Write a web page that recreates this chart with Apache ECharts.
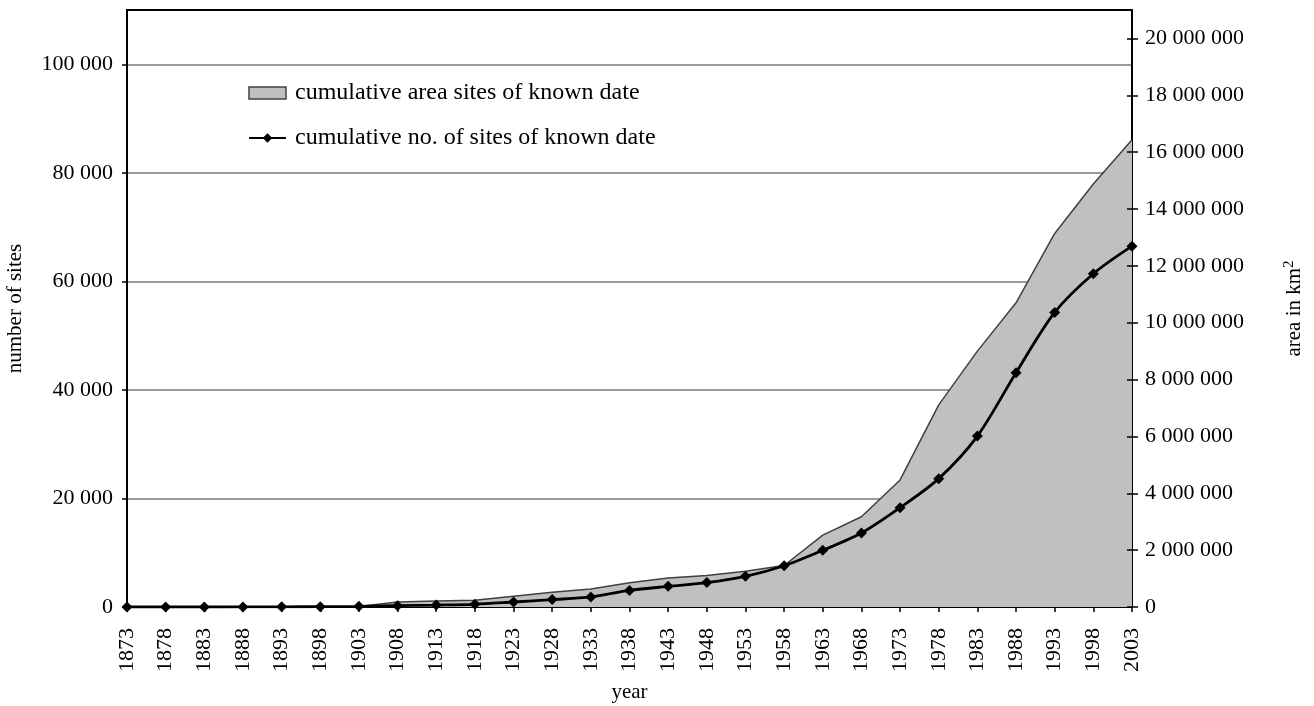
<!DOCTYPE html>
<html>
<head>
<meta charset="utf-8">
<style>
  html, body { margin: 0; padding: 0; background: #fff; }
  #chart { width: 1314px; height: 706px; }
</style>
<script src="https://cdn.jsdelivr.net/npm/echarts@6/dist/echarts.min.js"></script>
</head>
<body>
<div id="chart"></div>
<script>
const chart = echarts.init(document.getElementById("chart"));

const FONT = "Liberation Serif";

// ==========================
// DATA
// ==========================

const years = [
  "1873", "1878", "1883", "1888", "1893", "1898", "1903", "1908", "1913",
  "1918", "1923", "1928", "1933", "1938", "1943", "1948", "1953", "1958",
  "1963", "1968", "1973", "1978", "1983", "1988", "1993", "1998", "2003"
];

// cumulative number of sites (left axis)
const siteCounts = [
  0, 0, 0, 10, 30, 60, 120, 250, 350,
  500, 920, 1360, 1860, 3050, 3810, 4500, 5650, 7600,
  10440, 13630, 18300, 23650, 31490, 43160, 54270, 61400, 66480
];

// cumulative area in km2 (right axis)
const siteArea = [
  0, 0, 0, 0, 5000, 10000, 20000, 180000, 210000,
  240000, 380000, 520000, 630000, 850000, 1020000, 1110000, 1260000, 1460000,
  2530000, 3175000, 4470000, 7110000, 9000000, 10700000, 13140000, 14880000, 16440000
];

const AREA_NAME = "cumulative area sites of known date";
const COUNT_NAME = "cumulative no. of sites of known date";

const spaced = v => String(v).replace(/\B(?=(\d{3})+(?!\d))/g, " ");

// ==========================
// OPTIONS
// ==========================

const rightScale = { type: "value", min: 0, max: 21000000, interval: 2000000, position: "right" };

chart.setOption({
  animation: false,
  textStyle: { fontFamily: FONT, color: "#000" },

  grid: {
    left: 127, right: 182, top: 10, bottom: 99,
    containLabel: false,
    outerBoundsMode: "none"
  },

  legend: {
    orient: "vertical",
    left: 243,
    top: 76,
    itemWidth: 37,
    itemHeight: 12,
    itemGap: 21,
    textStyle: { fontFamily: FONT, fontSize: 24, color: "#000", padding: [0, 0, 0, 4] },
    data: [
      {
        name: AREA_NAME,
        icon: "rect",
        itemStyle: { color: "#c0c0c0", borderColor: "#404040", borderWidth: 1.5 }
      },
      { name: COUNT_NAME }
    ]
  },

  xAxis: [
    {
      type: "category",
      data: years,
      boundaryGap: false,
      name: "year",
      nameLocation: "middle",
      nameGap: 75,
      nameTextStyle: { fontFamily: FONT, fontSize: 21, color: "#000" },
      axisLine: { lineStyle: { color: "#000", width: 2 } },
      axisTick: { length: 5, lineStyle: { color: "#000", width: 1.5 } },
      axisLabel: {
        rotate: 90,
        margin: 21,
        interval: 0,
        fontFamily: FONT,
        fontSize: 22,
        color: "#000"
      }
    },
    {
      // top frame line only
      type: "category",
      data: years,
      boundaryGap: false,
      position: "top",
      axisLine: { show: true, onZero: false, lineStyle: { color: "#000", width: 2 } },
      axisTick: { show: false },
      axisLabel: { show: false },
      splitLine: { show: false }
    }
  ],

  yAxis: [
    {
      type: "value",
      min: 0,
      max: 110000,
      interval: 20000,
      name: "number of sites",
      nameLocation: "middle",
      nameGap: 101,
      nameRotate: 90,
      nameTextStyle: { fontFamily: FONT, fontSize: 21, color: "#000" },
      axisLine: { show: true, lineStyle: { color: "#000", width: 2 } },
      axisTick: { show: true, length: 5, lineStyle: { color: "#000", width: 1.5 } },
      axisLabel: {
        margin: 14,
        fontFamily: FONT,
        fontSize: 22,
        color: "#000",
        formatter: spaced,
        showMaxLabel: false
      },
      splitLine: { showMaxLine: false, lineStyle: { color: "#999", width: 2 } }
    },
    {
      ...rightScale,
      name: "{n|area in km}{s|2}",
      nameLocation: "middle",
      nameGap: 150,
      nameRotate: 90,
      nameTextStyle: {
        rich: {
          n: { fontFamily: FONT, fontSize: 21, color: "#000" },
          s: { fontFamily: FONT, fontSize: 15, color: "#000", verticalAlign: "top", padding: [0, 0, 10, 0] }
        }
      },
      axisLine: { show: true, lineStyle: { color: "#000", width: 2 } },
      axisTick: { show: true, length: 6, lineStyle: { color: "#000", width: 1.5 } },
      axisLabel: {
        margin: 13,
        fontFamily: FONT,
        fontSize: 22,
        color: "#000",
        formatter: spaced,
        showMaxLabel: false
      },
      splitLine: { show: false }
    },
    {
      // inner half of the crossing ticks on the right axis
      ...rightScale,
      z: 5,
      axisLine: { show: false },
      axisTick: { show: true, inside: true, length: 5, lineStyle: { color: "#000", width: 1.5 } },
      axisLabel: { show: false },
      splitLine: { show: false }
    }
  ],

  series: [
    {
      name: AREA_NAME,
      type: "line",
      yAxisIndex: 1,
      data: siteArea,
      symbol: "none",
      lineStyle: { color: "#404040", width: 1.5 },
      itemStyle: { color: "#c0c0c0" },
      areaStyle: { color: "#c0c0c0", opacity: 1 },
      z: 1
    },
    {
      name: COUNT_NAME,
      type: "line",
      yAxisIndex: 0,
      data: siteCounts,
      smooth: 0.3,
      symbol: "diamond",
      symbolSize: 11,
      lineStyle: { color: "#000", width: 2.8 },
      itemStyle: { color: "#000" },
      z: 3
    }
  ]
});
</script>
</body>
</html>
